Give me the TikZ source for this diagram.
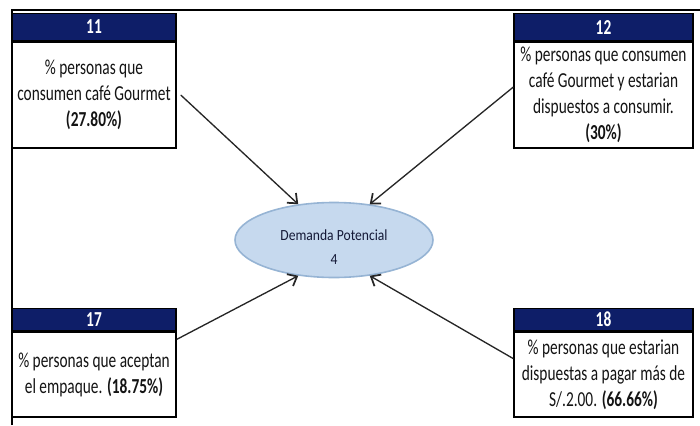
\documentclass[tikz,border=0pt]{standalone}
\usepackage{fontspec}
\setmainfont{Carlito}
\newfontfamily\cajafont{Carlito}[FakeStretch=0.72]
\newfontfamily\ovalofont{Carlito}[FakeStretch=0.88]
\usetikzlibrary{arrows.meta,shapes.geometric}
\definecolor{azulcab}{RGB}{14,30,104}
\definecolor{celeste}{RGB}{198,217,238}
\definecolor{bordeoval}{RGB}{150,180,212}
\definecolor{textogris}{RGB}{20,20,20}
\definecolor{textooval}{RGB}{20,25,55}

\tikzset{every picture/.style={line width=0.75pt}}
\tikzset{
  cuerpo/.style={draw=black, line width=1.1pt, fill=white, inner sep=0pt, align=center,
    text=textogris, font=\cajafont\fontsize{16}{19.5}\selectfont},
  cabecera/.style={draw=black, line width=1.1pt, fill=azulcab, inner sep=0pt, anchor=south,
    text=white, font=\cajafont\fontsize{16}{16}\selectfont\bfseries},
  flecha/.style={-{Straight Barb[length=6pt,width=10pt,line width=1.3pt]}, line width=1pt, draw=black!85},
}

\begin{document}
\begin{tikzpicture}[x=0.75pt,y=0.75pt,yscale=-1,xscale=1]
\useasboundingbox (0,0) rectangle (700,425);

%Shape: Frame
\draw [line width=1.1pt]  (12,425) -- (12,10) -- (700,10) ;

%Shape: Ellipse [id:dp]
\node [ellipse, draw=bordeoval, line width=1.2pt, fill=celeste, inner sep=0pt, minimum width=148.5pt, minimum height=56.25pt] (dp) at (334,240) {};
% Text Node
\node [align=center, inner sep=0pt, text=textooval, font=\ovalofont\fontsize{11.6}{18}\selectfont] (dpt) at (334,247) {Demanda Potencial\\4};

% Text Node 11
\node [cuerpo, minimum width=123pt, minimum height=79.5pt] (c11) at (94,95) {\% personas que\\consumen café Gourmet\\\textbf{(27.80\%)}};
\node [cabecera, minimum width=123pt, minimum height=20.25pt] (h11) at (c11.north) {11};

% Text Node 12
\node [cuerpo, minimum width=134.25pt, minimum height=79.5pt] (c12) at (603.5,95) {\% personas que consumen\\café Gourmet y estarian\\dispuestos a consumir.\\\textbf{(30\%)}};
\node [cabecera, minimum width=134.25pt, minimum height=20.25pt] (h12) at (c12.north) {12};

% Text Node 17
\node [cuerpo, minimum width=123pt, minimum height=63.75pt] (c17) at (94,374.5) {\% personas que aceptan\\el empaque. \textbf{(18.75\%)}};
\node [cabecera, minimum width=123pt, minimum height=16.5pt] (h17) at (c17.north) {17};

% Text Node 18
\node [cuerpo, minimum width=134.25pt, minimum height=63.75pt] (c18) at (603.5,374.5) {\% personas que estarian\\dispuestas a pagar más de\\S/.2.00. \textbf{(66.66\%)}};
\node [cabecera, minimum width=134.25pt, minimum height=16.5pt] (h18) at (c18.north) {18};

%Straight Lines
\draw [flecha]  ([xshift=3pt]c11.east) -- (dp.135) ;
\draw [flecha]  (c12.175) -- (dp.45) ;
\draw [flecha]  (c17.23) -- (dp.225) ;
\draw [flecha]  (c18.170) -- (dp.315) ;

\end{tikzpicture}
\end{document}
